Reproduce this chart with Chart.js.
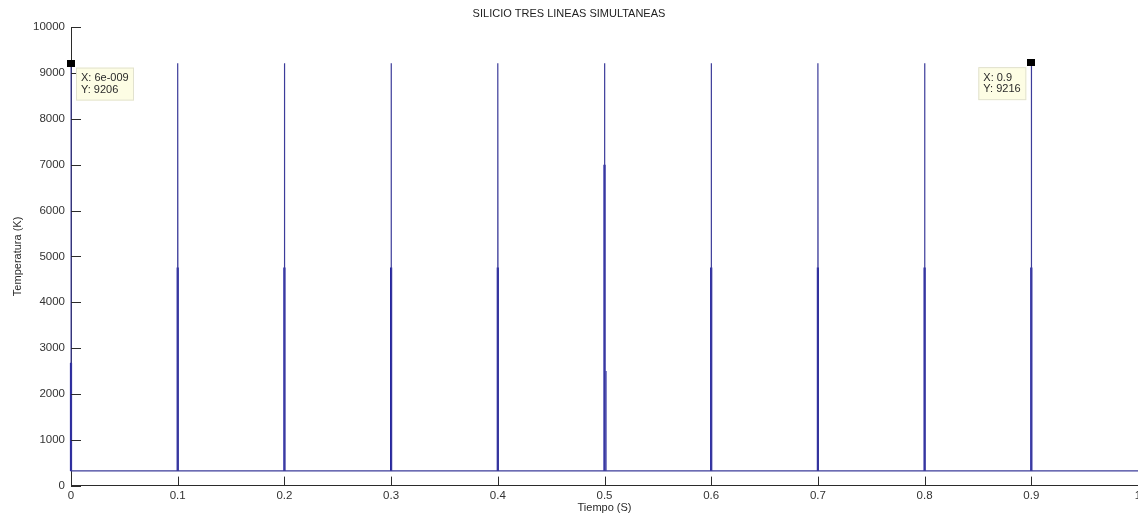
<!DOCTYPE html>
<html>
<head>
<meta charset="utf-8">
<title>SILICIO TRES LINEAS SIMULTANEAS</title>
<script src="https://cdn.jsdelivr.net/npm/chart.js@4.4.1/dist/chart.umd.min.js"></script>
<style>
  html, body { margin: 0; padding: 0; background: #ffffff; }
  canvas { display: block; }
</style>
</head>
<body>
<canvas id="c" width="1138" height="518"></canvas>
<script>
// Temperature trace: one heating pulse every 0.1 s on top of the ambient baseline
const pulseTimes = [6e-9, 0.1, 0.2, 0.3, 0.4, 0.5, 0.6, 0.7, 0.8, 0.9];
const peakTemps  = [9206, 9216, 9216, 9216, 9216, 9216, 9216, 9216, 9216, 9216];
// upper limit of the dense oscillation band inside each pulse
const bandTemps  = [2680, 4760, 4760, 4760, 4760, 7000, 4760, 4760, 4760, 4760];
// small secondary pulse right after the 0.5 s one
const sideTimes  = [0.5015];
const sideTemps  = [2500];
const baseTemp = 320;
const timeEnd = 1;

const xTickLabels = ['0', '0.1', '0.2', '0.3', '0.4', '0.5', '0.6', '0.7', '0.8', '0.9', '1'];
const yTickLabels = ['0', '1000', '2000', '3000', '4000', '5000', '6000', '7000', '8000', '9000', '10000'];

// data cursors
const tipTimes = [6e-9, 0.9];
const tipTemps = [9206, 9216];
const tipTexts = [['X: 6e-009', 'Y: 9206'], ['X: 0.9', 'Y: 9216']];

const FONT = '"Liberation Sans", Arial, Helvetica, sans-serif';
Chart.defaults.font.family = FONT;
Chart.defaults.color = '#2e2e2e';

// full signal: baseline with a sharp spike at every pulse
const trace = [{ x: 0, y: baseTemp }];
pulseTimes.forEach((t, i) => {
  trace.push({ x: t, y: baseTemp }, { x: t, y: peakTemps[i] }, { x: t + 0.0003, y: baseTemp });
});
trace.push({ x: timeEnd, y: baseTemp });

// dense band of the oscillation, drawn as separate vertical strokes
const band = [];
pulseTimes.forEach((t, i) => {
  band.push({ x: t, y: baseTemp }, { x: t, y: bandTemps[i] }, { x: t, y: null });
});

const side = [];
sideTimes.forEach((t, i) => {
  side.push({ x: t, y: baseTemp }, { x: t, y: sideTemps[i] }, { x: t, y: null });
});

const axisDecor = {
  id: 'axisDecor',
  afterDraw(chart) {
    const { ctx, chartArea, scales: { x, y } } = chart;
    ctx.save();
    // inward tick marks
    ctx.strokeStyle = '#2b2b2b';
    ctx.lineWidth = 1;
    ctx.beginPath();
    x.ticks.forEach(tk => {
      const px = Math.round(x.getPixelForValue(tk.value)) + 0.5;
      ctx.moveTo(px, chartArea.bottom);
      ctx.lineTo(px, chartArea.bottom - 9);
    });
    y.ticks.forEach(tk => {
      const py = Math.round(y.getPixelForValue(tk.value)) + 0.5;
      ctx.moveTo(chartArea.left, py);
      ctx.lineTo(chartArea.left + 10, py);
    });
    ctx.stroke();

    // data cursor boxes
    ctx.font = '11px ' + FONT;
    tipTimes.forEach((t, i) => {
      const px = x.getPixelForValue(t);
      const py = y.getPixelForValue(tipTemps[i]);
      const w = Math.ceil(Math.max(...tipTexts[i].map(s => ctx.measureText(s).width))) + 10;
      const h = 33;
      const onRight = px > (chartArea.left + chartArea.right) / 2;
      const bx = onRight ? px - 5 - w : px + 5;
      const by = py + 4;
      ctx.fillStyle = '#fdfde4';
      ctx.fillRect(bx, by, w, h);
      ctx.strokeStyle = '#e2e2cf';
      ctx.strokeRect(bx + 0.5, by + 0.5, w - 1, h - 1);
      ctx.fillStyle = '#2a2a2a';
      ctx.textAlign = 'left';
      ctx.textBaseline = 'middle';
      ctx.fillText(tipTexts[i][0], bx + 5, by + 10.5);
      ctx.fillText(tipTexts[i][1], bx + 5, by + 22);
      ctx.fillStyle = '#000000';
      ctx.fillRect(Math.round(px) - 4, Math.round(py) - 4, 8, 7);
    });
    ctx.restore();
  }
};

new Chart(document.getElementById('c'), {
  type: 'line',
  data: {
    datasets: [
      {
        data: trace,
        borderColor: '#3c3c9a',
        borderWidth: 1.2,
        pointRadius: 0,
        tension: 0,
        clip: false
      },
      {
        data: band,
        borderColor: '#1c1ca6',
        borderWidth: 2.2,
        pointRadius: 0,
        tension: 0,
        spanGaps: false,
        clip: false
      },
      {
        data: side,
        borderColor: '#3030a0',
        borderWidth: 1,
        pointRadius: 0,
        tension: 0,
        spanGaps: false,
        clip: false
      }
    ]
  },
  options: {
    responsive: false,
    animation: false,
    events: [],
    layout: { padding: { left: 0, right: 0, top: 0, bottom: 0 } },
    plugins: {
      legend: { display: false },
      tooltip: { enabled: false },
      title: {
        display: true,
        text: 'SILICIO TRES LINEAS SIMULTANEAS',
        color: '#1e1e1e',
        font: { size: 11, weight: 'normal', family: FONT },
        padding: { top: 7, bottom: 7 }
      }
    },
    scales: {
      x: {
        type: 'linear',
        min: 0,
        max: timeEnd,
        grid: { display: false, drawTicks: false },
        border: { display: true, color: '#2b2b2b', width: 1 },
        ticks: {
          stepSize: 0.1,
          padding: 3,
          maxRotation: 0,
          autoSkip: false,
          color: '#333333',
          font: { size: 11.5, family: FONT },
          callback: (v, i) => xTickLabels[i]
        },
        title: {
          display: true,
          text: 'Tiempo (S)',
          color: '#2a2a2a',
          font: { size: 11, family: FONT },
          padding: { top: 0, bottom: 3 }
        },
        afterFit(s) { s.height = 32.4; s.paddingLeft = 0; s.paddingRight = 0; }
      },
      y: {
        type: 'linear',
        min: 0,
        max: 10000,
        grid: { display: false, drawTicks: false },
        border: { display: true, color: '#2b2b2b', width: 1 },
        ticks: {
          stepSize: 1000,
          padding: 6,
          autoSkip: false,
          color: '#333333',
          font: { size: 11.5, family: FONT },
          callback: (v, i) => yTickLabels[i]
        },
        title: {
          display: true,
          text: 'Temperatura (K)',
          color: '#2a2a2a',
          font: { size: 11, family: FONT },
          padding: { top: 11, bottom: 0 }
        },
        afterFit(s) { s.width = 71; s.paddingTop = 0; s.paddingBottom = 0; }
      }
    }
  },
  plugins: [axisDecor]
});
</script>
</body>
</html>
